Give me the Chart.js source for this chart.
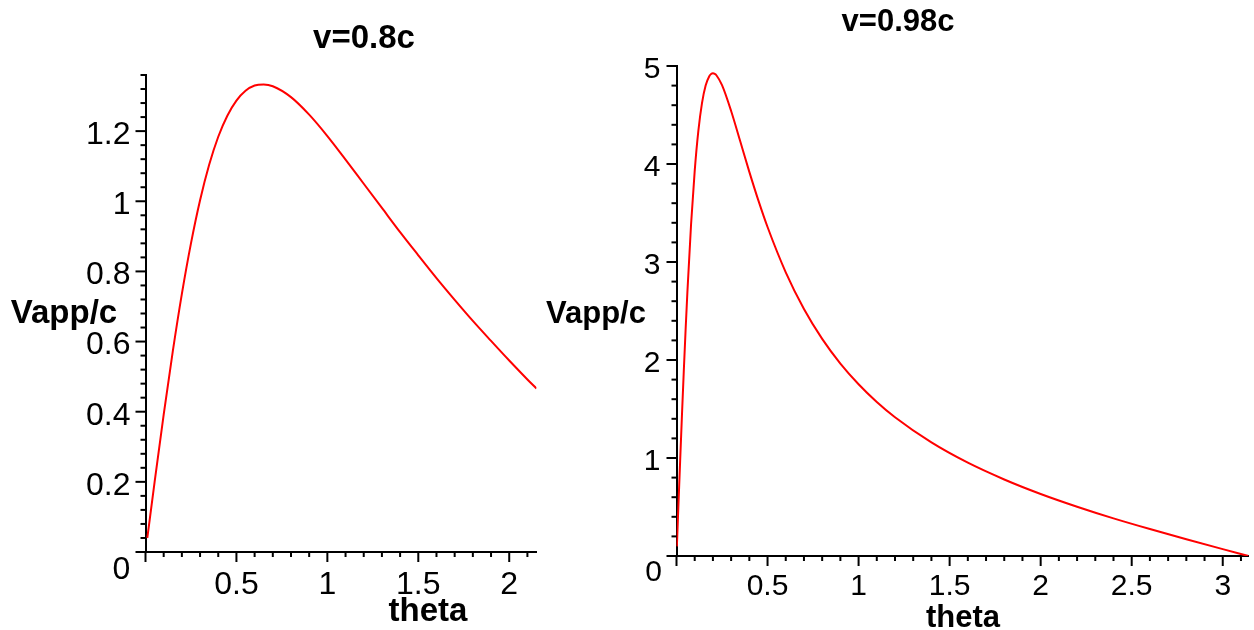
<!DOCTYPE html>
<html>
<head>
<meta charset="utf-8">
<script src="https://cdn.jsdelivr.net/npm/chart.js@4.4.1/dist/chart.umd.min.js"></script>
<style>
  html, body { margin: 0; padding: 0; background: #fff; }
  body { width: 1254px; height: 630px; position: relative; overflow: hidden; }
  canvas { position: absolute; top: 0; }
  #left { left: 0; }
  #right { left: 540px; }
</style>
</head>
<body>
<canvas id="left" width="560" height="630"></canvas>
<canvas id="right" width="714" height="630"></canvas>
<script>
// v = 0.8c : apparent speed against angle
const thetaLeft = [0.01, 0.05, 0.1, 0.15, 0.2, 0.25, 0.3, 0.35, 0.4, 0.45, 0.5, 0.55, 0.6, 0.65, 0.7,
  0.8, 0.9, 1.0, 1.1, 1.2, 1.3, 1.4, 1.5, 1.6, 1.7, 1.8, 1.9, 2.0, 2.1, 2.15];
const vappLeft = [0.040, 0.199, 0.392, 0.572, 0.736, 0.880, 1.003, 1.104, 1.184, 1.244, 1.287, 1.315, 1.330, 1.333, 1.328,
  1.297, 1.247, 1.186, 1.119, 1.050, 0.981, 0.912, 0.846, 0.781, 0.719, 0.659, 0.602, 0.546, 0.492, 0.466];

// v = 0.98c
const thetaRight = [0.002, 0.01, 0.02, 0.03, 0.04, 0.05, 0.06, 0.08, 0.1, 0.12, 0.14, 0.16, 0.18, 0.19, 0.2,
  0.21, 0.22, 0.25, 0.3, 0.35, 0.4, 0.45, 0.5, 0.6, 0.7, 0.8, 0.9, 1.0, 1.1, 1.2, 1.4, 1.6, 1.8, 2.0,
  2.2, 2.4, 2.6, 2.8, 3.0, 3.1416];
const vappRight = [0.098, 0.489, 0.970, 1.438, 1.886, 2.308, 2.700, 3.385, 3.930, 4.338, 4.622, 4.801, 4.896, 4.918, 4.925,
  4.919, 4.903, 4.804, 4.541, 4.232, 3.920, 3.626, 3.357, 2.895, 2.521, 2.216, 1.964, 1.753, 1.572, 1.416, 1.159, 0.952, 0.781, 0.633,
  0.503, 0.384, 0.275, 0.171, 0.070, 0.0];

const FONT = "'Liberation Sans', Arial, sans-serif";

function isMultiple(v, step) {
    const r = v / step;
    return Math.abs(r - Math.round(r)) < 1e-6;
}

function fmt(v) {
    return String(Math.round(v * 100) / 100);
}

// maple style axes: long ticks at the labelled values, short ones between, plus the text
const mapleAxes = {
    id: 'mapleAxes',
    afterDraw(chart, args, o) {
        const ctx = chart.ctx;
        const area = chart.chartArea;
        const xs = chart.scales.x;
        const ys = chart.scales.y;
        ctx.save();
        ctx.strokeStyle = '#000';
        ctx.lineWidth = 2;
        xs.ticks.forEach(t => {
            if (!isMultiple(t.value, o.xMinor)) return;
            const px = xs.getPixelForValue(t.value);
            const len = isMultiple(t.value, o.xMajor) ? 10 : 5;
            ctx.beginPath();
            ctx.moveTo(px, area.bottom);
            ctx.lineTo(px, area.bottom + len);
            ctx.stroke();
        });
        ys.ticks.forEach(t => {
            if (!isMultiple(t.value, o.yMinor)) return;
            const py = ys.getPixelForValue(t.value);
            const len = isMultiple(t.value, o.yMajor) ? 10 : 5;
            ctx.beginPath();
            ctx.moveTo(area.left, py);
            ctx.lineTo(area.left - len, py);
            ctx.stroke();
        });

        ctx.fillStyle = '#000';
        ctx.textAlign = 'center';
        ctx.textBaseline = 'middle';
        ctx.font = 'bold ' + o.titleSize + 'px ' + FONT;
        ctx.fillText(o.title, o.titleX, o.titleY);
        ctx.textBaseline = 'alphabetic';
        ctx.fillText('Vapp/c', o.yLabelX, o.yLabelY);
        ctx.fillText('theta', o.xLabelX, o.xLabelY);
        // single 0 at the origin
        ctx.textBaseline = 'middle';
        ctx.font = o.tickSize + 'px ' + FONT;
        ctx.fillText('0', area.left + o.zeroDX, ys.getPixelForValue(0) + o.zeroDY);
        ctx.restore();
    }
};

function makeChart(id, thetas, values, cfg) {
    const pts = thetas.map((t, i) => ({ x: t, y: values[i] }));
    return new Chart(document.getElementById(id), {
        type: 'line',
        data: {
            datasets: [{
                data: pts,
                borderColor: '#ff0000',
                borderWidth: 2,
                pointRadius: 0,
                fill: false,
                cubicInterpolationMode: 'monotone'
            }]
        },
        options: {
            responsive: false,
            animation: false,
            devicePixelRatio: 1,
            layout: { padding: cfg.padding },
            plugins: {
                legend: { display: false },
                tooltip: { enabled: false },
                mapleAxes: cfg.text
            },
            scales: {
                x: {
                    type: 'linear',
                    min: 0,
                    max: cfg.xMax,
                    afterFit: s => { s.height = cfg.xHeight; },
                    grid: { display: false, drawTicks: false },
                    border: { display: true, color: '#000', width: 2 },
                    ticks: {
                        stepSize: cfg.text.xMinor,
                        autoSkip: false,
                        includeBounds: false,
                        maxRotation: 0,
                        padding: cfg.xPad,
                        color: '#000',
                        font: { family: FONT, size: cfg.text.tickSize },
                        callback: v => (v !== 0 && isMultiple(v, cfg.text.xMajor)) ? fmt(v) : ''
                    }
                },
                y: {
                    type: 'linear',
                    min: 0,
                    max: cfg.yMax,
                    afterFit: s => { s.width = cfg.yWidth; },
                    grid: { display: false, drawTicks: false },
                    border: { display: true, color: '#000', width: 2 },
                    ticks: {
                        stepSize: cfg.text.yMinor,
                        autoSkip: false,
                        includeBounds: false,
                        padding: cfg.yPad,
                        labelOffset: 4,
                        color: '#000',
                        font: { family: FONT, size: cfg.text.tickSize },
                        callback: v => (v !== 0 && isMultiple(v, cfg.text.yMajor)) ? fmt(v) : ''
                    }
                }
            }
        },
        plugins: [mapleAxes]
    });
}

makeChart('left', thetaLeft, vappLeft, {
    xMax: 2.15, yMax: 1.36,
    padding: { left: 0, top: 75, right: 23.5, bottom: 0 },
    xHeight: 78, yWidth: 145.5, xPad: 14, yPad: 15,
    text: {
        title: 'v=0.8c', titleX: 364, titleY: 39, titleSize: 33,
        yLabelX: 64, yLabelY: 323, xLabelX: 428, xLabelY: 621,
        zeroDX: -24, zeroDY: 18,
        tickSize: 32, xMinor: 0.1, xMajor: 0.5, yMinor: 0.04, yMajor: 0.2
    }
});

makeChart('right', thetaRight, vappRight, {
    xMax: 3.1416, yMax: 5,
    padding: { left: 0, top: 66, right: 3.5, bottom: 0 },
    xHeight: 74, yWidth: 136.5, xPad: 13, yPad: 16,
    text: {
        title: 'v=0.98c', titleX: 358, titleY: 22, titleSize: 31,
        yLabelX: 56, yLabelY: 323, xLabelX: 423, xLabelY: 627,
        zeroDX: -23, zeroDY: 17,
        tickSize: 30, xMinor: 0.1, xMajor: 0.5, yMinor: 0.2, yMajor: 1
    }
});
</script>
</body>
</html>
